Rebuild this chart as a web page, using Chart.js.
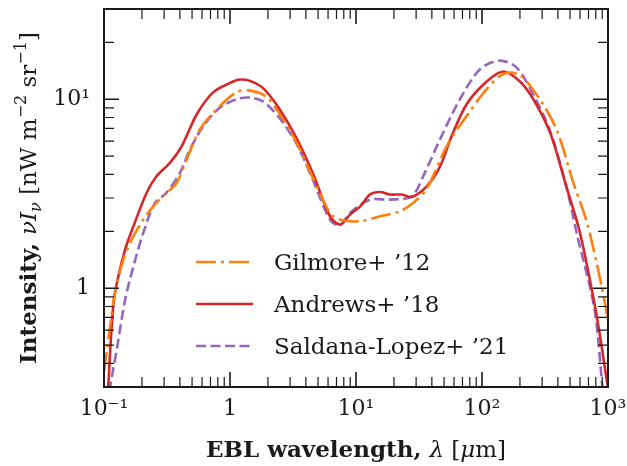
<!DOCTYPE html>
<html><head><meta charset="utf-8">
<script src="https://cdn.jsdelivr.net/npm/chart.js@4"></script>
<style>html,body{margin:0;padding:0;background:#fff}</style>
</head><body>
<canvas id="c" width="627" height="466"></canvas>
<script>
// ---- data ----
const seriesLabels = ['Gilmore+ ’12', 'Andrews+ ’18', 'Saldana-Lopez+ ’21'];

const gilmoreWl = [0.1, 0.1116, 0.122, 0.142, 0.166, 0.205, 0.246, 0.314, 0.378, 0.453, 0.578, 0.784, 1.13, 1.44, 1.95, 2.49, 3.38, 4.58, 6.22, 7.5, 10.8, 15.5, 22.3, 28.5, 36.4, 52.5, 75.5, 109, 148, 200, 287, 391, 531, 677, 813, 891, 977, 1000];
const gilmoreI  = [0.36, 0.625, 0.94, 1.41, 1.81, 2.31, 2.71, 3.2, 3.61, 4.8, 6.93, 8.85, 10.9, 11.1, 10.3, 8.3, 5.9, 3.8, 2.5, 2.3, 2.26, 2.40, 2.55, 2.83, 3.35, 5.65, 8.15, 11.3, 13.6, 13.4, 10.0, 6.9, 3.61, 2.25, 1.36, 1.02, 0.74, 0.68];

const andrewsWl = [0.104, 0.108, 0.115, 0.122, 0.147, 0.171, 0.218, 0.262, 0.334, 0.414, 0.544, 0.738, 1.06, 1.2, 1.44, 1.84, 2.49, 3.38, 4.58, 6.22, 7.47, 8.96, 10.8, 12.9, 15.5, 18.6, 23, 27.7, 36.4, 46.4, 57, 75.5, 109, 148, 200, 255, 347, 470, 600, 789, 891, 977, 1000];
const andrewsI  = [0.22, 0.3, 0.625, 0.94, 1.6, 2.12, 3.2, 3.92, 4.61, 5.65, 8.3, 10.9, 12.4, 12.7, 12.5, 11.4, 8.8, 6.2, 4.0, 2.40, 2.17, 2.45, 2.71, 3.13, 3.23, 3.13, 3.13, 3.04, 3.46, 4.4, 6.3, 9.4, 12.4, 14.0, 12.4, 10.0, 6.65, 3.4, 1.96, 0.80, 0.49, 0.326, 0.30];

const saldanaWl = [0.106, 0.112, 0.126, 0.147, 0.171, 0.205, 0.254, 0.314, 0.401, 0.482, 0.614, 0.834, 1.13, 1.44, 1.84, 2.49, 3.38, 4.58, 6.22, 7.47, 8.96, 12.9, 18.6, 27.7, 34.2, 46.4, 66.8, 96.4, 139, 188, 255, 347, 470, 564, 780, 891, 950];
const saldanaI  = [0.2, 0.3, 0.47, 0.867, 1.30, 1.96, 2.83, 3.2, 4.08, 5.43, 7.21, 9.03, 10.0, 10.2, 9.7, 7.9, 5.8, 3.7, 2.30, 2.15, 2.50, 2.94, 2.94, 3.06, 3.92, 6.13, 10.0, 14.4, 16.0, 14.7, 10.6, 6.8, 3.4, 1.96, 0.78, 0.33, 0.2];

const xTickValues = [0.1, 1, 10, 100, 1000];
const xTickLabels = ['10⁻¹', '1', '10¹', '10²', '10³'];
const yTickValues = [1, 10];
const yTickLabels = ['1', '10¹'];
const xRange = [0.1, 1000];
const yRange = [0.3, 30];

// ---- styling ----
const SERIF = '"DejaVu Serif", "Liberation Serif", serif';
const INK = '#1a1a1a';
const colors = ['#ff7f0e', '#d62728', '#9467bd'];
const dashes = [[20, 5, 3, 5], [], [10, 4.5]];

const toPts = (xs, ys) => xs.map((v, i) => ({x: v, y: ys[i]}));
const seriesData = [toPts(gilmoreWl, gilmoreI), toPts(andrewsWl, andrewsI), toPts(saldanaWl, saldanaI)];

function minorValues(lo, hi) {
  const out = [];
  for (let d = Math.pow(10, Math.floor(Math.log10(lo))); d < hi; d *= 10) {
    for (let m = 2; m <= 9; m++) { const v = m * d; if (v > lo * 1.0001 && v < hi * 0.9999) out.push(v); }
  }
  return out;
}

const frameTicks = {
  id: 'frameTicks',
  afterDatasetsDraw(chart) {
    const {ctx, chartArea: a, scales: {x, y}} = chart;
    ctx.save();
    ctx.strokeStyle = INK;
    const tx = (v, len, lw) => {
      const p = x.getPixelForValue(v);
      ctx.lineWidth = lw; ctx.beginPath();
      ctx.moveTo(p, a.bottom); ctx.lineTo(p, a.bottom - len);
      ctx.moveTo(p, a.top); ctx.lineTo(p, a.top + len); ctx.stroke();
    };
    const ty = (v, len, lw) => {
      const p = y.getPixelForValue(v);
      ctx.lineWidth = lw; ctx.beginPath();
      ctx.moveTo(a.left, p); ctx.lineTo(a.left + len, p);
      ctx.moveTo(a.right, p); ctx.lineTo(a.right - len, p); ctx.stroke();
    };
    minorValues(xRange[0], xRange[1]).forEach(v => tx(v, 10, 1.2));
    xTickValues.forEach(v => tx(v, 15, 1.6));
    minorValues(yRange[0], yRange[1]).forEach(v => ty(v, 10, 1.2));
    yTickValues.forEach(v => ty(v, 15, 1.6));
    ctx.lineWidth = 2;
    ctx.strokeRect(a.left, a.top, a.right - a.left, a.bottom - a.top);
    ctx.restore();
  }
};

function drawRuns(ctx, runs, x, y) {
  let w = 0;
  runs.forEach(r => { ctx.font = r.font; r.w = ctx.measureText(r.t).width; w += r.w; });
  let cx = x - w / 2;
  runs.forEach(r => { ctx.font = r.font; ctx.fillText(r.t, cx, y + (r.dy || 0)); cx += r.w; });
}

const titles = {
  id: 'titles',
  afterDraw(chart) {
    const {ctx, chartArea: a} = chart;
    ctx.save();
    ctx.fillStyle = INK; ctx.textBaseline = 'alphabetic';
    const B = 'bold 23px ' + SERIF, N = '23px ' + SERIF, I = 'italic 23px ' + SERIF;
    const S = '16px ' + SERIF, SI = 'italic 16px ' + SERIF;
    drawRuns(ctx, [
      {t: 'EBL wavelength, ', font: B},
      {t: 'λ', font: I},
      {t: ' [', font: N},
      {t: 'μ', font: I},
      {t: 'm]', font: N}
    ], (a.left + a.right) / 2, 457);
    ctx.translate(36, (a.top + a.bottom) / 2);
    ctx.rotate(-Math.PI / 2);
    drawRuns(ctx, [
      {t: 'Intensity, ', font: B},
      {t: 'νI', font: I},
      {t: 'ν', font: SI, dy: 5},
      {t: ' [nW m', font: N},
      {t: '−2', font: S, dy: -10},
      {t: ' sr', font: N},
      {t: '−1', font: S, dy: -10},
      {t: ']', font: N}
    ], 0, 0);
    ctx.restore();
  }
};

const inLegend = {
  id: 'inLegend',
  afterDraw(chart) {
    const {ctx, chartArea: a} = chart;
    const ds = chart.data.datasets;
    const x0 = a.left + 92, x1 = a.left + 149, tx = a.left + 170;
    const rows = [262, 304, 346];
    ctx.save();
    ds.forEach((d, i) => {
      ctx.strokeStyle = d.borderColor; ctx.lineWidth = d.borderWidth;
      ctx.setLineDash(d.borderDash || []); ctx.lineCap = 'butt';
      ctx.beginPath(); ctx.moveTo(x0, rows[i]); ctx.lineTo(x1, rows[i]); ctx.stroke();
      ctx.setLineDash([]);
      ctx.fillStyle = INK; ctx.font = '23px ' + SERIF; ctx.textBaseline = 'alphabetic';
      ctx.fillText(d.label, tx, rows[i] + 8);
    });
    ctx.restore();
  }
};

new Chart(document.getElementById('c'), {
  type: 'line',
  data: {
    datasets: seriesData.map((pts, i) => ({
      label: seriesLabels[i], data: pts,
      borderColor: colors[i], backgroundColor: colors[i],
      borderWidth: 2.6, borderDash: dashes[i],
      pointRadius: 0, fill: false,
      tension: 0.3, clip: 0
    }))
  },
  options: {
    responsive: false, animation: false, devicePixelRatio: 1,
    layout: {padding: {top: 9, right: 19, left: 0, bottom: 0}},
    plugins: {legend: {display: false}, tooltip: {enabled: false}},
    scales: {
      x: {
        type: 'logarithmic', min: xRange[0], max: xRange[1],
        grid: {display: false, drawTicks: false}, border: {display: false},
        afterBuildTicks: s => { s.ticks = xTickValues.map(v => ({value: v})); },
        afterFit: s => { s.height = 79; s.paddingLeft = 0; s.paddingRight = 0; },
        ticks: {
          autoSkip: false, maxRotation: 0, minRotation: 0, padding: 9,
          color: INK, font: {family: SERIF, size: 22},
          callback: (v, i) => xTickLabels[i]
        }
      },
      y: {
        type: 'logarithmic', min: yRange[0], max: yRange[1],
        grid: {display: false, drawTicks: false}, border: {display: false},
        afterBuildTicks: s => { s.ticks = yTickValues.map(v => ({value: v})); },
        afterFit: s => { s.width = 104; s.paddingTop = 0; s.paddingBottom = 0; },
        ticks: {
          autoSkip: false, padding: 14,
          color: INK, font: {family: SERIF, size: 22},
          callback: (v, i) => yTickLabels[i]
        }
      }
    }
  },
  plugins: [frameTicks, titles, inLegend]
});
</script>
</body></html>
